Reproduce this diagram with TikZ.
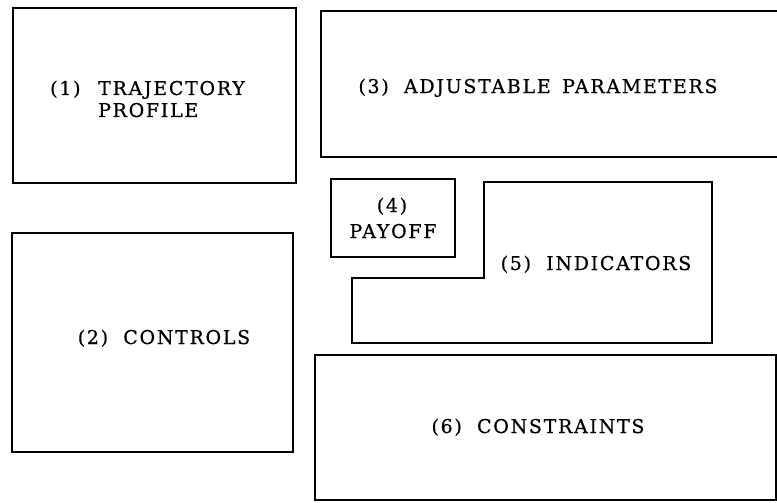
\documentclass[tikz,border=0pt]{standalone}
\usepackage{fontspec}
\newfontfamily\blockfont[LetterSpace=9,FakeBold=0.6]{DejaVu Serif}
\begin{document}
\begin{tikzpicture}[x=1pt,y=-1pt,
  frame/.style={draw, line width=2pt, line join=miter, inner sep=0pt},
  lbl/.style={font=\blockfont\fontsize{19}{22}\selectfont, inner sep=0pt}]
\useasboundingbox (0,0) rectangle (777,503);
\begin{scope}
\clip (0,0) rectangle (777,503);
% rectangular blocks
\node[frame, minimum width=283pt, minimum height=175pt] (b1) at (154.5,95.5) {};
\node[frame, minimum width=281pt, minimum height=219pt] (b2) at (152.5,342.5) {};
\node[frame, minimum width=464pt, minimum height=146pt] (b3) at (553,84) {};
\node[frame, minimum width=124pt, minimum height=78pt] (b4) at (393,218) {};
\node[frame, minimum width=461pt, minimum height=145pt] (b6) at (545.5,427.5) {};
% L-shaped indicator block
\coordinate (b5a) at (484,182);
\coordinate (b5b) at (712,182);
\coordinate (b5c) at (712,343);
\coordinate (b5d) at (352,343);
\coordinate (b5e) at (352,278);
\coordinate (b5f) at (484,278);
\draw[line width=2pt, line join=miter] (b5a) -- (b5b) -- (b5c) -- (b5d) -- (b5e) -- (b5f) -- cycle;
\end{scope}
% labels
\node[lbl, anchor=base west] (t1n) at (50,95) {(1)};
\node[lbl, anchor=base west] (t1a) at (98,95) {TRAJECTORY};
\node[lbl, anchor=base west] (t1b) at (98,117) {PROFILE};
\node[lbl, anchor=base] (t2) at (164,344) {(2)\hspace{0.8em}CONTROLS};
\node[lbl, anchor=base] (t3) at (538,93) {(3)\hspace{0.8em}ADJUSTABLE\hspace{0.6em}PARAMETERS};
\node[lbl, anchor=base] (t4n) at (392,212) {(4)};
\node[lbl, anchor=base] (t4) at (393,238) {PAYOFF};
\node[lbl, anchor=base] (t5) at (596,270) {(5)\hspace{0.8em}INDICATORS};
\node[lbl, anchor=base] (t6) at (538,433) {(6)\hspace{0.8em}CONSTRAINTS};
\end{tikzpicture}
\end{document}
